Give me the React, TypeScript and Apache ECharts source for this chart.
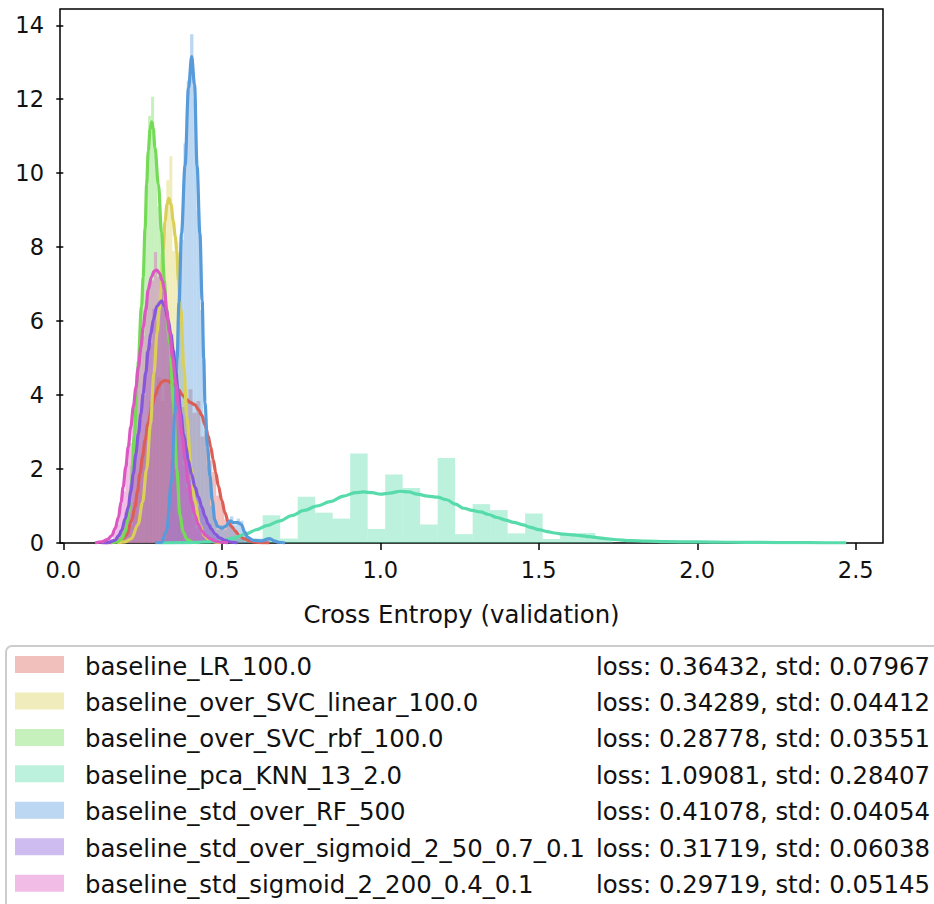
import React, { useEffect, useRef } from "react";
import * as echarts from "echarts";

// ---------- data ----------
const seriesNames = [
  "baseline_LR_100.0",
  "baseline_over_SVC_linear_100.0",
  "baseline_over_SVC_rbf_100.0",
  "baseline_pca_KNN_13_2.0",
  "baseline_std_over_RF_500",
  "baseline_std_over_sigmoid_2_50_0.7_0.1",
  "baseline_std_sigmoid_2_200_0.4_0.1",
];
const seriesLoss = [0.36432, 0.34289, 0.28778, 1.09081, 0.41078, 0.31719, 0.29719];
const seriesStd = [0.07967, 0.04412, 0.03551, 0.28407, 0.04054, 0.06038, 0.05145];
const seriesColors = ["#db5f57", "#dbd057", "#74db57", "#57dbab", "#579bdb", "#8457db", "#db57c1"];

// histogram bins: first edge, bin width, bar heights (density)
const histStart = [0.17, 0.2015, 0.1915, 0.5186, 0.295, 0.16, 0.146];
const histWidth = [0.0125, 0.0095, 0.0095, 0.0552, 0.0105, 0.011, 0.01];
const histLR = [0.08, 0.16, 0.32, 0.48, 1.12, 1.6, 2.4, 3.2, 3.84, 4.0, 4.48, 3.84, 4.32, 4.8, 4.0, 4.16, 3.68, 3.84, 4.16, 3.52, 3.84, 2.88, 3.04, 2.24, 1.92, 1.28, 1.12, 0.64, 0.48, 0.32, 0.16, 0.16, 0.0, 0.08];
const histSvcLinear = [0.1, 0.2, 0.3, 0.7, 0.9, 1.7, 2.1, 3.2, 4.0, 5.6, 6.2, 7.8, 8.4, 9.81, 10.46, 7.9, 8.14, 6.0, 4.9, 3.3, 2.3, 1.3, 0.8, 0.6, 0.2, 0.2, 0.1];
const histSvcRbf = [0.35, 0.7, 2.1, 3.15, 4.9, 6.3, 7.35, 9.8, 11.55, 12.07, 10.5, 9.1, 8.4, 6.9, 5.9, 4.9, 3.3, 1.8, 0.7, 0.35, 0.1];
const histKnn = [0.12, 0.12, 0.75, 0.12, 1.25, 0.82, 0.66, 2.42, 0.38, 1.85, 1.49, 0.5, 2.3, 0.24, 1.05, 0.89, 0.26, 0.8, 0.11, 0.27, 0.27, 0.14];
const histRf = [0, 0, 0.12, 0.6, 2.2, 3.7, 6.0, 8.2, 10.8, 12.5, 13.76, 12.0, 9.0, 6.3, 3.4, 2.1, 1.0, 0.6, 0.36, 0.48, 0.36, 0.6, 0.72, 0.48, 0.66, 0.6, 0.24, 0.12, 0, 0, 0, 0, 0.12, 0.12];
const histSigmoid50 = [0.08, 0.25, 0.42, 0.83, 1.08, 2.0, 2.41, 3.33, 4.0, 5.16, 5.41, 6.33, 6.0, 7.0, 6.5, 5.75, 5.66, 4.5, 4.16, 3.0, 2.83, 2.25, 1.66, 1.5, 1.0, 0.91, 0.58, 0.5, 0.25, 0.17, 0.08, 0.08];
const histSigmoid200 = [0.1, 0.3, 0.5, 1.1, 1.4, 2.2, 2.7, 3.75, 4.3, 5.2, 5.6, 6.4, 7.0, 7.1, 7.87, 7.2, 7.3, 6.4, 5.7, 5.3, 4.2, 3.6, 3.1, 2.1, 1.5, 1.2, 0.7, 0.4, 0.3, 0.2, 0.1, 0.1];

// KDE curves [x, density]
const kdeLR = [[0.13, 0], [0.15, 0.01], [0.17, 0.04], [0.185, 0.1], [0.2, 0.22], [0.215, 0.6], [0.226, 0.97], [0.234, 1.4], [0.242, 1.88], [0.25, 2.33], [0.258, 2.78], [0.268, 3.25], [0.279, 3.68], [0.29, 4.0], [0.3, 4.22], [0.31, 4.35], [0.32, 4.4], [0.33, 4.38], [0.34, 4.33], [0.352, 4.25], [0.363, 4.15], [0.376, 4.0], [0.389, 3.88], [0.4, 3.8], [0.415, 3.74], [0.427, 3.6], [0.437, 3.45], [0.447, 3.2], [0.457, 2.9], [0.465, 2.6], [0.473, 2.25], [0.481, 1.9], [0.489, 1.55], [0.5, 1.15], [0.51, 0.82], [0.52, 0.58], [0.53, 0.45], [0.542, 0.33], [0.555, 0.2], [0.57, 0.12], [0.584, 0.07], [0.6, 0.03], [0.62, 0.01], [0.65, 0]];
const kdeSvcLinear = [[0.17, 0], [0.195, 0.03], [0.215, 0.12], [0.236, 0.5], [0.25, 1.1], [0.263, 2.0], [0.275, 3.2], [0.286, 4.6], [0.296, 5.7], [0.303, 6.3], [0.31, 7.1], [0.315, 7.9], [0.321, 8.7], [0.327, 9.15], [0.333, 9.32], [0.34, 9.15], [0.347, 8.7], [0.353, 8.3], [0.358, 7.9], [0.363, 7.1], [0.371, 6.3], [0.38, 4.8], [0.39, 3.4], [0.403, 2.0], [0.415, 1.15], [0.43, 0.5], [0.445, 0.2], [0.46, 0.07], [0.48, 0.02], [0.5, 0]];
const kdeSvcRbf = [[0.15, 0], [0.17, 0.03], [0.185, 0.12], [0.195, 0.3], [0.205, 0.75], [0.215, 1.6], [0.224, 2.9], [0.235, 4.7], [0.247, 6.4], [0.252, 7.2], [0.258, 8.5], [0.263, 9.7], [0.268, 10.6], [0.274, 11.2], [0.279, 11.39], [0.284, 11.2], [0.289, 10.7], [0.3, 9.7], [0.31, 8.4], [0.319, 7.1], [0.324, 6.4], [0.336, 5.4], [0.347, 3.8], [0.358, 2.0], [0.368, 0.75], [0.378, 0.3], [0.39, 0.1], [0.41, 0.02], [0.43, 0]];
const kdeKnn = [[0.3, 0], [0.4, 0.01], [0.45, 0.03], [0.5, 0.06], [0.536, 0.13], [0.578, 0.25], [0.61, 0.36], [0.642, 0.47], [0.684, 0.6], [0.72, 0.74], [0.76, 0.88], [0.8, 1.0], [0.842, 1.12], [0.884, 1.27], [0.921, 1.36], [0.947, 1.38], [0.975, 1.36], [1.0, 1.32], [1.03, 1.35], [1.063, 1.4], [1.09, 1.38], [1.116, 1.32], [1.15, 1.27], [1.18, 1.24], [1.21, 1.17], [1.237, 1.05], [1.263, 0.94], [1.29, 0.88], [1.316, 0.84], [1.342, 0.77], [1.368, 0.69], [1.395, 0.62], [1.421, 0.56], [1.45, 0.49], [1.474, 0.42], [1.5, 0.36], [1.526, 0.31], [1.55, 0.27], [1.579, 0.24], [1.605, 0.22], [1.631, 0.2], [1.66, 0.17], [1.684, 0.145], [1.71, 0.12], [1.737, 0.095], [1.79, 0.065], [1.84, 0.05], [1.9, 0.038], [2.0, 0.028], [2.1, 0.02], [2.2, 0.015], [2.31, 0.01], [2.4, 0.005], [2.47, 0.002]];
const kdeRf = [[0.29, 0], [0.31, 0.02], [0.325, 0.3], [0.342, 1.7], [0.352, 3.5], [0.359, 5.0], [0.365, 6.5], [0.373, 8.37], [0.384, 10.2], [0.395, 12.3], [0.405, 13.15], [0.414, 12.4], [0.422, 10.2], [0.431, 8.37], [0.438, 6.56], [0.443, 5.0], [0.447, 3.8], [0.455, 2.6], [0.463, 1.8], [0.47, 1.15], [0.478, 0.62], [0.487, 0.45], [0.5, 0.4], [0.512, 0.45], [0.526, 0.6], [0.537, 0.55], [0.55, 0.55], [0.562, 0.5], [0.572, 0.3], [0.582, 0.15], [0.6, 0.07], [0.625, 0.06], [0.65, 0.12], [0.665, 0.06], [0.68, 0.02], [0.7, 0]];
const kdeSigmoid50 = [[0.12, 0], [0.14, 0.01], [0.163, 0.07], [0.175, 0.2], [0.184, 0.34], [0.195, 0.65], [0.205, 0.97], [0.213, 1.4], [0.221, 1.88], [0.229, 2.4], [0.237, 2.96], [0.245, 3.5], [0.252, 4.04], [0.26, 4.6], [0.268, 5.21], [0.276, 5.65], [0.284, 6.03], [0.295, 6.4], [0.31, 6.55], [0.32, 6.4], [0.331, 6.03], [0.339, 5.65], [0.347, 5.21], [0.355, 4.6], [0.363, 4.04], [0.371, 3.5], [0.379, 2.96], [0.387, 2.6], [0.394, 2.24], [0.405, 1.85], [0.415, 1.52], [0.426, 1.25], [0.437, 0.97], [0.447, 0.72], [0.457, 0.52], [0.467, 0.38], [0.478, 0.25], [0.493, 0.14], [0.51, 0.07], [0.53, 0.02], [0.55, 0]];
const kdeSigmoid200 = [[0.1, 0], [0.121, 0.03], [0.14, 0.1], [0.153, 0.2], [0.164, 0.4], [0.174, 0.7], [0.182, 1.1], [0.189, 1.52], [0.197, 2.05], [0.205, 2.6], [0.213, 3.15], [0.221, 3.68], [0.229, 4.2], [0.237, 4.76], [0.245, 5.3], [0.252, 5.84], [0.26, 6.3], [0.268, 6.85], [0.278, 7.2], [0.287, 7.35], [0.295, 7.38], [0.303, 7.3], [0.312, 7.1], [0.319, 6.85], [0.326, 6.3], [0.335, 5.7], [0.345, 5.0], [0.355, 4.3], [0.365, 3.6], [0.375, 2.9], [0.385, 2.2], [0.395, 1.6], [0.405, 1.1], [0.415, 0.75], [0.426, 0.5], [0.437, 0.32], [0.45, 0.2], [0.463, 0.12], [0.48, 0.05], [0.5, 0.02], [0.52, 0]];

const histData = [histLR, histSvcLinear, histSvcRbf, histKnn, histRf, histSigmoid50, histSigmoid200];
const kdeData = [kdeLR, kdeSvcLinear, kdeSvcRbf, kdeKnn, kdeRf, kdeSigmoid50, kdeSigmoid200];

// axes
const xRange = [-0.0104, 2.586];
const yRange = [0, 14.44];
const xTicks = [0, 0.5, 1, 1.5, 2, 2.5];
const xTickLabels = ["0.0", "0.5", "1.0", "1.5", "2.0", "2.5"];
const yTicks = [0, 2, 4, 6, 8, 10, 12, 14];
const yTickLabels = ["0", "2", "4", "6", "8", "10", "12", "14"];
const xAxisName = "Cross Entropy (validation)";

// ---------- helpers ----------
function rgba(hex: string, a: number) {
  const r = parseInt(hex.slice(1, 3), 16);
  const g = parseInt(hex.slice(3, 5), 16);
  const b = parseInt(hex.slice(5, 7), 16);
  return `rgba(${r},${g},${b},${a})`;
}

const FONT = "DejaVu Sans";

export default function App() {
  const ref = useRef<HTMLDivElement>(null);

  useEffect(() => {
    if (!ref.current) return;
    const chart = echarts.init(ref.current, undefined, { renderer: "svg" });

    const series: any[] = [];
    seriesNames.forEach((name, i) => {
      const bars = histData[i].map((h, k) => [
        histStart[i] + k * histWidth[i],
        histStart[i] + (k + 1) * histWidth[i],
        h,
      ]);
      const fill = rgba(seriesColors[i], 0.4);
      series.push({
        type: "custom",
        name: name + "_hist",
        silent: true,
        z: 2,
        encode: { x: [0, 1], y: 2 },
        data: bars,
        renderItem: (params: any, api: any) => {
          const a = api.coord([api.value(0), api.value(2)]);
          const b = api.coord([api.value(1), 0]);
          return {
            type: "rect",
            shape: { x: a[0], y: a[1], width: b[0] - a[0], height: b[1] - a[1] },
            style: { fill },
          };
        },
      });
      series.push({
        type: "line",
        name,
        silent: true,
        z: 2,
        data: kdeData[i],
        showSymbol: false,
        symbol: "none",
        smooth: 0.35,
        smoothMonotone: "x",
        lineStyle: { color: seriesColors[i], width: 3.2 },
        itemStyle: { color: seriesColors[i] },
      });
    });

    // legend drawn as graphic elements
    const rowY0 = 664.5;
    const rowStep = 36.45;
    const graphic: any[] = [
      {
        type: "rect",
        left: 5,
        top: 645,
        shape: { x: 0, y: 0, width: 960, height: 300, r: 6 },
        style: { fill: "#ffffff", stroke: "#cccccc", lineWidth: 2 },
        z: 10,
      },
    ];
    seriesNames.forEach((name, i) => {
      const cy = rowY0 + i * rowStep;
      graphic.push({
        type: "rect",
        shape: { x: 15, y: cy - 8.5, width: 49, height: 17 },
        style: { fill: rgba(seriesColors[i], 0.4) },
        z: 11,
      });
      graphic.push({
        type: "text",
        x: 85,
        y: cy + 1.5,
        style: {
          text: name,
          font: `24.4px "${FONT}"`,
          fill: "#111",
          verticalAlign: "middle",
          align: "left",
        },
        z: 11,
      });
      graphic.push({
        type: "text",
        x: 930,
        y: cy + 1.5,
        style: {
          text: `loss: ${seriesLoss[i].toFixed(5)}, std: ${seriesStd[i].toFixed(5)}`,
          font: `24.4px "${FONT}"`,
          fill: "#111",
          verticalAlign: "middle",
          align: "right",
        },
        z: 11,
      });
    });

    const option: any = {
      animation: false,
      backgroundColor: "#ffffff",
      textStyle: { fontFamily: FONT },
      grid: {
        left: 60,
        top: 9,
        width: 823,
        height: 534,
        show: true,
        borderColor: "#000",
        borderWidth: 1.5,
        backgroundColor: "transparent",
        containLabel: false,
        outerBoundsMode: "none",
      },
      xAxis: {
        type: "value",
        min: xRange[0],
        max: xRange[1],
        name: xAxisName,
        nameLocation: "middle",
        nameGap: 59,
        nameTextStyle: { fontSize: 24.4, color: "#111", fontFamily: FONT, padding: [0, 20, 0, 0] },
        axisLine: { show: false },
        splitLine: { show: false },
        axisTick: {
          show: true,
          length: 7,
          customValues: xTicks,
          lineStyle: { color: "#000", width: 1.5 },
        },
        axisLabel: {
          show: true,
          customValues: xTicks,
          margin: 15,
          fontSize: 22.5,
          color: "#111",
          fontFamily: FONT,
          formatter: (v: number) => {
            const k = xTicks.findIndex((t) => Math.abs(t - v) < 1e-9);
            return k >= 0 ? xTickLabels[k] : "";
          },
        },
      },
      yAxis: {
        type: "value",
        min: yRange[0],
        max: yRange[1],
        axisLine: { show: false },
        splitLine: { show: false },
        axisTick: {
          show: true,
          length: 7,
          customValues: yTicks,
          lineStyle: { color: "#000", width: 1.5 },
        },
        axisLabel: {
          show: true,
          customValues: yTicks,
          margin: 16,
          fontSize: 22.5,
          color: "#111",
          fontFamily: FONT,
          formatter: (v: number) => {
            const k = yTicks.findIndex((t) => Math.abs(t - v) < 1e-9);
            return k >= 0 ? yTickLabels[k] : "";
          },
        },
      },
      series,
      graphic,
    };

    chart.setOption(option);
    return () => chart.dispose();
  }, []);

  return (
    <div
      ref={ref}
      style={{ position: "absolute", left: 0, top: 0, width: 934, height: 904 }}
    />
  );
}
